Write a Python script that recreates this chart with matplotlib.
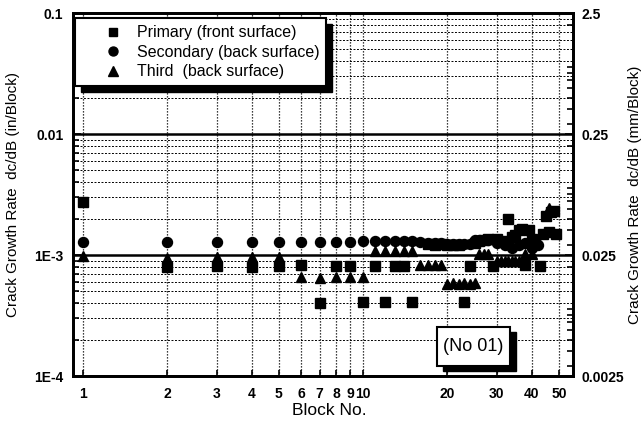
import matplotlib
matplotlib.use('Agg')
import matplotlib.pyplot as plt
from matplotlib.patches import Rectangle
from matplotlib.transforms import IdentityTransform
from matplotlib.ticker import FixedLocator, FixedFormatter, NullFormatter, LogLocator

plt.rcParams['font.family'] = ['Liberation Sans', 'DejaVu Sans']

# ---------------- data ----------------
primary_blocks = [1, 2, 3, 4, 5, 6, 7, 8, 9, 10, 11, 12, 13, 14, 15, 17, 18, 19, 20, 21,
                  22, 23, 24, 25, 26, 27, 28, 29, 30, 32, 33, 34, 35, 36, 37, 38, 39, 40,
                  41, 43, 44, 45, 46, 47, 48, 49]
primary_rate = [2.75e-3, 0.79e-3, 0.81e-3, 0.80e-3, 0.81e-3, 0.82e-3, 0.40e-3, 0.81e-3,
                0.81e-3, 0.41e-3, 0.81e-3, 0.41e-3, 0.81e-3, 0.81e-3, 0.41e-3, 1.24e-3,
                1.22e-3, 1.24e-3, 1.20e-3, 1.20e-3, 1.22e-3, 0.41e-3, 0.81e-3, 1.26e-3,
                1.30e-3, 1.34e-3, 1.36e-3, 0.81e-3, 1.35e-3, 1.30e-3, 2.00e-3, 1.40e-3,
                1.45e-3, 1.60e-3, 1.65e-3, 0.83e-3, 1.60e-3, 1.35e-3, 1.30e-3, 0.81e-3,
                1.50e-3, 2.10e-3, 1.55e-3, 2.25e-3, 2.30e-3, 1.50e-3]

secondary_blocks = [1, 2, 3, 4, 5, 6, 7, 8, 9, 10, 11, 12, 13, 14, 15, 16, 17, 18, 19, 20,
                    21, 22, 23, 24, 25, 26, 27, 28, 30, 32, 34, 36, 38, 40, 42]
secondary_rate = [1.29e-3, 1.29e-3, 1.29e-3, 1.29e-3, 1.29e-3, 1.29e-3, 1.29e-3, 1.29e-3,
                  1.29e-3, 1.31e-3, 1.30e-3, 1.30e-3, 1.30e-3, 1.30e-3, 1.30e-3, 1.27e-3,
                  1.26e-3, 1.26e-3, 1.26e-3, 1.24e-3, 1.24e-3, 1.24e-3, 1.24e-3, 1.24e-3,
                  1.33e-3, 1.33e-3, 1.33e-3, 1.33e-3, 1.25e-3, 1.20e-3, 1.15e-3, 1.20e-3,
                  1.25e-3, 1.15e-3, 1.20e-3]

third_blocks = [1, 2, 3, 4, 5, 6, 7, 8, 9, 10, 11, 12, 13, 14, 15, 16, 17, 18, 19, 20,
                21, 22, 23, 24, 25, 26, 27, 28, 30, 31, 32, 33, 34, 35, 36, 38, 40, 46]
third_rate = [0.98e-3, 0.95e-3, 0.97e-3, 0.97e-3, 0.97e-3, 0.66e-3, 0.65e-3, 0.66e-3,
              0.66e-3, 0.66e-3, 1.07e-3, 1.07e-3, 1.07e-3, 1.07e-3, 1.07e-3, 0.82e-3,
              0.82e-3, 0.82e-3, 0.82e-3, 0.58e-3, 0.59e-3, 0.58e-3, 0.59e-3, 0.58e-3,
              0.59e-3, 1.02e-3, 1.02e-3, 1.02e-3, 0.90e-3, 0.90e-3, 0.90e-3, 0.90e-3,
              0.90e-3, 0.90e-3, 0.90e-3, 1.02e-3, 1.02e-3, 2.45e-3]

series_labels = ['Primary (front surface)', 'Secondary (back surface)', 'Third  (back surface)']

x_ticks = [1, 2, 3, 4, 5, 6, 7, 8, 9, 10, 20, 30, 40, 50]
x_tick_labels = ['1', '2', '3', '4', '5', '6', '7', '8', '9', '10', '20', '30', '40', '50']
left_ticks = [1e-4, 1e-3, 1e-2, 1e-1]
left_tick_labels = ['1E-4', '1E-3', '0.01', '0.1']
right_ticks = [0.0025, 0.025, 0.25, 2.5]
right_tick_labels = ['0.0025', '0.025', '0.25', '2.5']

# ---------------- figure ----------------
fig = plt.figure(figsize=(6.44, 4.24), dpi=100)
ax = fig.add_axes([0.1134, 0.1132, 0.7764, 0.8561])
ax.set_xscale('log')
ax.set_yscale('log')
ax.set_xlim(0.921, 56.2)
ax.set_ylim(1e-4, 0.1)

ax.xaxis.set_major_locator(FixedLocator(x_ticks))
ax.xaxis.set_major_formatter(FixedFormatter(x_tick_labels))
ax.xaxis.set_minor_locator(FixedLocator([]))
ax.yaxis.set_major_locator(FixedLocator(left_ticks))
ax.yaxis.set_major_formatter(FixedFormatter(left_tick_labels))
ax.yaxis.set_minor_locator(LogLocator(base=10, subs=range(2, 10)))
ax.yaxis.set_minor_formatter(NullFormatter())

# grid
ax.grid(True, which='major', axis='x', color='k', linestyle=(0, (1, 1.4)), linewidth=0.9, zorder=1)
ax.grid(True, which='minor', axis='y', color='k', linestyle=(0, (2, 1.6)), linewidth=0.7, zorder=1)
ax.grid(True, which='major', axis='y', color='k', linestyle='-', linewidth=1.8, zorder=1)
ax.set_axisbelow(True)

for s in ax.spines.values():
    s.set_linewidth(2)

ax.tick_params(axis='x', which='major', direction='in', length=4, width=1.2,
               labelsize=10, pad=8)
ax.tick_params(axis='y', which='major', direction='in', length=6, width=1.2,
               labelsize=10, pad=7)
ax.tick_params(axis='y', which='minor', direction='in', length=4, width=1.2)
for lab in ax.get_xticklabels() + ax.get_yticklabels():
    lab.set_fontweight('bold')

# data
ax.plot(primary_blocks, primary_rate, linestyle='none', marker='s', ms=6.8, color='k',
        label=series_labels[0], zorder=3)
ax.plot(secondary_blocks, secondary_rate, linestyle='none', marker='o', ms=7.2, color='k',
        label=series_labels[1], zorder=3)
ax.plot(third_blocks, third_rate, linestyle='none', marker='^', ms=7.8, color='k',
        label=series_labels[2], zorder=3)

# right axis (mm/Block)
ax2 = ax.twinx()
ax2.set_yscale('log')
ax2.set_ylim(0.0025, 2.5)
ax2.yaxis.set_major_locator(FixedLocator(right_ticks))
ax2.yaxis.set_major_formatter(FixedFormatter(right_tick_labels))
ax2.yaxis.set_minor_locator(LogLocator(base=10, subs=range(2, 10)))
ax2.yaxis.set_minor_formatter(NullFormatter())
ax2.tick_params(axis='y', which='major', direction='in', length=6, width=1.2,
                labelsize=10, pad=6)
ax2.tick_params(axis='y', which='minor', direction='in', length=4, width=1.2)
for lab in ax2.get_yticklabels():
    lab.set_fontweight('bold')
for s in ax2.spines.values():
    s.set_linewidth(2)

# labels
ax.set_xlabel('Block No.', fontsize=12.5)
ax.xaxis.set_label_coords(0.512, -0.075)
ax.set_ylabel('Crack Growth Rate  dc/dB (in/Block)', fontsize=11)
ax.yaxis.set_label_coords(-0.106, 0.5)
ax2.set_ylabel('Crack Growth Rate  dc/dB (mm/Block)', fontsize=11)
ax2.yaxis.set_label_coords(1.110, 0.5)

# legend (drawn on ax2 so it sits on top of everything)
handles, labels = ax.get_legend_handles_labels()
leg = ax2.legend(handles, labels, loc='upper left', bbox_to_anchor=(0.004, 0.986),
                 bbox_transform=ax.transAxes, borderaxespad=0, frameon=True,
                 fancybox=False, edgecolor='k', framealpha=1, fontsize=11.5,
                 borderpad=0.45, handlelength=3.8, handletextpad=-0.4,
                 labelspacing=0.28, numpoints=1, markerscale=0.9)
leg.get_frame().set_linewidth(1.5)
leg.set_zorder(6)

# specimen box
box_x0, box_y0, box_w, box_h = 0.728, 0.0275, 0.146, 0.108
ax2.add_patch(Rectangle((box_x0 + 0.011, box_y0 - 0.015), box_w, box_h,
                        transform=ax.transAxes, facecolor='k', edgecolor='k',
                        zorder=4, clip_on=False))
ax2.add_patch(Rectangle((box_x0, box_y0), box_w, box_h, transform=ax.transAxes,
                        facecolor='white', edgecolor='k', linewidth=1.5, zorder=4.5,
                        clip_on=False))
ax2.text(box_x0 + box_w / 2, box_y0 + box_h / 2, '(No 01)', transform=ax.transAxes,
         ha='center', va='center', fontsize=13, zorder=5)

# legend shadow
fig.canvas.draw()
bb = leg.get_window_extent()
ax2.add_artist(Rectangle((bb.x0 + 6, bb.y0 - 6), bb.width, bb.height,
                         transform=IdentityTransform(), facecolor='k', edgecolor='k',
                         zorder=5.5, clip_on=False))

fig.savefig('out.png', dpi=100)
